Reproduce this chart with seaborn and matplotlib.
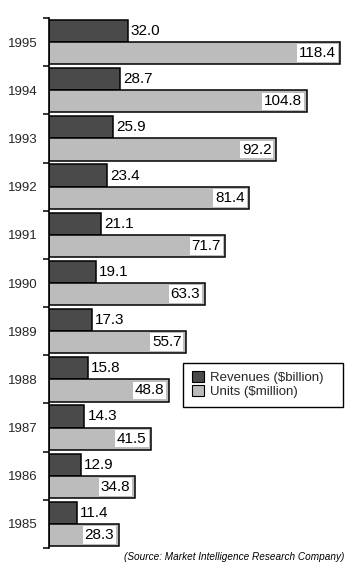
import matplotlib
matplotlib.use("Agg")
import matplotlib.pyplot as plt
import matplotlib.patches as mpatches
import seaborn as sns
import pandas as pd
import numpy as np

years = ["1995", "1994", "1993", "1992", "1991", "1990", "1989", "1988", "1987", "1986", "1985"]
revenues = [32.0, 28.7, 25.9, 23.4, 21.1, 19.1, 17.3, 15.8, 14.3, 12.9, 11.4]
units = [118.4, 104.8, 92.2, 81.4, 71.7, 63.3, 55.7, 48.8, 41.5, 34.8, 28.3]
series_names = ["Revenues ($billion)", "Units ($million)"]
source_text = "(Source: Market Intelligence Research Company)"

df = pd.DataFrame({
    "year": years * 2,
    "value": revenues + units,
    "series": [series_names[0]] * len(years) + [series_names[1]] * len(years),
})

sns.set_style("white")
plt.rcParams["font.family"] = ["Liberation Sans", "DejaVu Sans"]

fig = plt.figure(figsize=(3.46, 5.65), dpi=100)
ax = fig.add_axes([49 / 346, 1 - 548 / 565, (345 - 49) / 346, (548 - 18) / 565])

palette = {series_names[0]: "#4a4a4a", series_names[1]: "#bcbcbc"}
sns.barplot(data=df, y="year", x="value", hue="series", order=years,
            hue_order=series_names, palette=palette, orient="h",
            width=0.92, gap=0, edgecolor="black", linewidth=1.1,
            saturation=1, ax=ax, legend=True)

ax.set_xlim(0, 120.3)
ax.set_ylim(len(years) - 0.5, -0.5)
ax.set_xlabel("")
ax.set_ylabel("")
ax.set_xticks([])
for s in ["top", "right", "bottom"]:
    ax.spines[s].set_visible(False)
ax.spines["left"].set_color("black")
ax.spines["left"].set_linewidth(1.2)

ax.tick_params(axis="y", which="major", length=0, labelsize=9.5, pad=8)
ax.set_yticks(np.arange(-0.5, len(years), 1.0), minor=True)
ax.tick_params(axis="y", which="minor", length=4, width=1.1, color="black", left=True)

# value labels
rev_cont, unit_cont = ax.containers[0], ax.containers[1]
for bar, v in zip(rev_cont, revenues):
    y = bar.get_y() + bar.get_height() / 2
    ax.text(bar.get_width() + 1.3, y, f"{v:.1f}", va="center", ha="left",
            fontsize=11, color="black")
for bar, v in zip(unit_cont, units):
    y = bar.get_y() + bar.get_height() / 2
    ax.text(bar.get_width() - 1.8, y, f"{v:.1f}", va="center", ha="right",
            fontsize=11, color="black",
            bbox=dict(boxstyle="square,pad=0.12", facecolor="white", edgecolor="none"))

# legend (frame drawn separately to match reference box)
frame = mpatches.Rectangle((183 / 346, 1 - 407 / 565), (343 - 183) / 346, (407 - 363) / 565,
                           transform=fig.transFigure, facecolor="white",
                           edgecolor="black", linewidth=1.0, zorder=4, clip_on=False)
ax.add_patch(frame)
leg = ax.legend(loc="upper left", bbox_to_anchor=(192 / 346, 1 - 371 / 565),
                bbox_transform=fig.transFigure, frameon=False,
                fontsize=9.5, handlelength=0.9, handleheight=0.9,
                handletextpad=0.5, labelspacing=0.05, borderpad=0.0,
                borderaxespad=0)
leg.set_zorder(6)
for h in leg.legend_handles:
    h.set_edgecolor("black")
    h.set_linewidth(0.8)

fig.text(344 / 346, 1 - 557 / 565, source_text, fontsize=7.2, style="italic",
         ha="right", va="center", color="black")

fig.savefig("out.png", dpi=100, facecolor="white")
